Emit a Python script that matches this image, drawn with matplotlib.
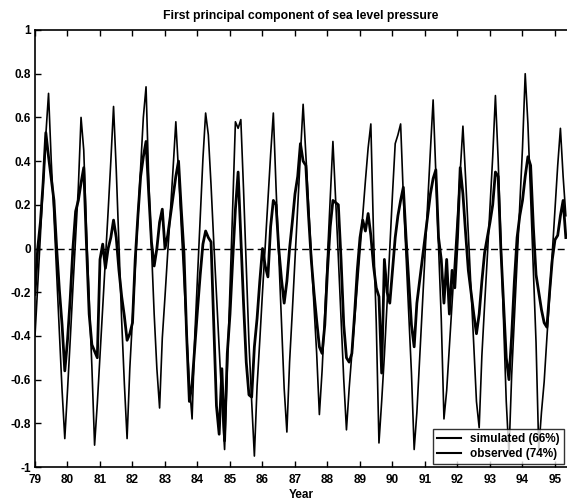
import numpy as np
import matplotlib
matplotlib.use("Agg")
import matplotlib.pyplot as plt

plt.rcParams['font.family'] = ['Liberation Sans', 'DejaVu Sans']
plt.rcParams['font.weight'] = 'bold'

start_year = 79
x_ticks = list(range(79, 96))
y_ticks = [-1, -0.8, -0.6, -0.4, -0.2, 0, 0.2, 0.4, 0.6, 0.8, 1]
y_tick_labels = ['-1', '-0.8', '-0.6', '-0.4', '-0.2', '0', '0.2', '0.4', '0.6', '0.8', '1']

# monthly values, Jan 1979 onward
simulated = [
    -0.40, -0.17, 0.06, 0.29, 0.52, 0.71, 0.40, 0.15, -0.12, -0.40, -0.65, -0.87,
    -0.65, -0.42, -0.18, 0.05, 0.28, 0.60, 0.45, 0.08, -0.23, -0.54, -0.90, -0.71,
    -0.49, -0.27, -0.05, 0.17, 0.40, 0.65, 0.36, 0.02, -0.33, -0.62, -0.87, -0.55,
    -0.32, -0.09, 0.14, 0.37, 0.60, 0.74, 0.31, 0.00, -0.30, -0.55, -0.73, -0.41,
    -0.22, -0.02, 0.17, 0.37, 0.58, 0.35, 0.10, -0.15, -0.39, -0.62, -0.78, -0.40,
    -0.13, 0.14, 0.41, 0.62, 0.52, 0.29, 0.03, -0.21, -0.46, -0.70, -0.92, -0.55,
    -0.18, 0.19, 0.58, 0.55, 0.59, 0.27, -0.08, -0.43, -0.70, -0.95, -0.63, -0.42,
    -0.20, 0.01, 0.22, 0.43, 0.62, 0.28, -0.03, -0.33, -0.64, -0.84, -0.52, -0.29,
    -0.05, 0.19, 0.43, 0.66, 0.43, 0.20, -0.03, -0.26, -0.48, -0.76, -0.56, -0.30,
    -0.04, 0.22, 0.49, 0.23, -0.04, -0.32, -0.60, -0.83, -0.64, -0.48, -0.33, -0.17,
    -0.01, 0.15, 0.31, 0.46, 0.57, 0.06, -0.34, -0.89, -0.70, -0.49, -0.25, 0.00,
    0.25, 0.48, 0.52, 0.57, 0.24, -0.03, -0.30, -0.57, -0.92, -0.75, -0.51, -0.27,
    -0.03, 0.21, 0.45, 0.68, 0.34, 0.01, -0.32, -0.78, -0.65, -0.45, -0.25, -0.05,
    0.15, 0.35, 0.56, 0.32, 0.07, -0.18, -0.44, -0.70, -0.82, -0.49, -0.26, -0.04,
    0.19, 0.42, 0.70, 0.41, 0.04, -0.33, -0.70, -0.94, -0.58, -0.32, -0.06, 0.20,
    0.46, 0.80, 0.57, 0.24, -0.09, -0.43, -0.92, -0.75, -0.61, -0.41, -0.22, -0.02,
    0.18, 0.38, 0.55, 0.33, 0.15,
]

observed = [
    -0.21, 0.00, 0.12, 0.30, 0.53, 0.42, 0.32, 0.22, 0.00, -0.19, -0.35, -0.56,
    -0.42, -0.23, 0.00, 0.17, 0.22, 0.30, 0.37, 0.02, -0.30, -0.44, -0.47, -0.50,
    -0.05, 0.02, -0.09, 0.00, 0.05, 0.13, 0.05, -0.10, -0.22, -0.31, -0.42, -0.39,
    -0.34, -0.05, 0.15, 0.33, 0.42, 0.49, 0.25, 0.03, -0.08, 0.00, 0.12, 0.18,
    0.00, 0.06, 0.15, 0.24, 0.33, 0.40, 0.18, -0.02, -0.40, -0.70, -0.62, -0.45,
    -0.28, -0.12, 0.02, 0.08, 0.05, 0.03, -0.35, -0.72, -0.85, -0.55, -0.88, -0.48,
    -0.30, -0.05, 0.18, 0.35, 0.05, -0.25, -0.52, -0.67, -0.68, -0.45, -0.32, -0.15,
    0.00, -0.08, -0.13, 0.10, 0.22, 0.20, 0.00, -0.14, -0.25, -0.15, 0.00, 0.12,
    0.25, 0.33, 0.48, 0.40, 0.38, 0.15, -0.05, -0.20, -0.33, -0.45, -0.48, -0.35,
    -0.10, 0.10, 0.22, 0.21, 0.20, -0.05, -0.35, -0.50, -0.52, -0.48, -0.30, -0.10,
    0.05, 0.13, 0.08, 0.16, 0.06, -0.08, -0.18, -0.22, -0.57, -0.05, -0.20, -0.25,
    -0.10, 0.05, 0.15, 0.22, 0.28, 0.05, -0.15, -0.35, -0.45, -0.25, -0.15, -0.05,
    0.05, 0.15, 0.25, 0.32, 0.36, 0.05, -0.05, -0.25, -0.05, -0.30, -0.10, -0.18,
    0.05, 0.37, 0.25, 0.07, -0.10, -0.20, -0.30, -0.39, -0.30, -0.15, -0.02, 0.05,
    0.12, 0.20, 0.35, 0.33, 0.00, -0.25, -0.50, -0.60, -0.40, -0.15, 0.05, 0.15,
    0.22, 0.33, 0.42, 0.38, 0.10, -0.12, -0.20, -0.28, -0.34, -0.36, -0.20, -0.05,
    0.04, 0.06, 0.15, 0.22, 0.05,
]

t_sim = start_year + np.arange(len(simulated)) / 12.0
t_obs = start_year + np.arange(len(observed)) / 12.0

fig = plt.figure(figsize=(5.67, 5.0), dpi=100)
ax = fig.add_axes([35 / 567, 33 / 500, (567 - 35) / 567, (467 - 30) / 500])

x_max = 79 + 532 / 32.5
ax.plot([79, x_max], [0, 0], color='black', linestyle=(0, (5, 3)), linewidth=1.0)
l1, = ax.plot(t_sim, simulated, color='black', linewidth=1.2, label='simulated (66%)')
l2, = ax.plot(t_obs, observed, color='black', linewidth=2.0, label='observed (74%)')

ax.set_xlim(79, x_max)
ax.set_ylim(-1, 1)
ax.set_xticks(x_ticks)
ax.set_xticklabels([str(v) for v in x_ticks])
ax.set_yticks(y_ticks)
ax.set_yticklabels(y_tick_labels)
ax.tick_params(direction='in', length=4, width=1.0, labelsize=8.5, top=True, right=False, pad=3)
ax.tick_params(axis='x', pad=5)
for s in ax.spines.values():
    s.set_linewidth(1.2)
ax.spines['right'].set_visible(False)

ax.set_title('First principal component of sea level pressure', fontsize=8.8, fontweight='bold', pad=8)
ax.set_xlabel('Year', fontsize=8.5, fontweight='bold', labelpad=2)

leg = ax.legend(handles=[l1, l2], loc='lower right', fontsize=8.5, frameon=True, fancybox=False,
                edgecolor='black', borderaxespad=0.25, handlelength=2.0, handletextpad=0.8,
                borderpad=0.35, labelspacing=0.25)
leg.get_frame().set_linewidth(1.0)
for h in leg.get_lines():
    h.set_linewidth(1.5)

fig.savefig('out.png', dpi=100)
